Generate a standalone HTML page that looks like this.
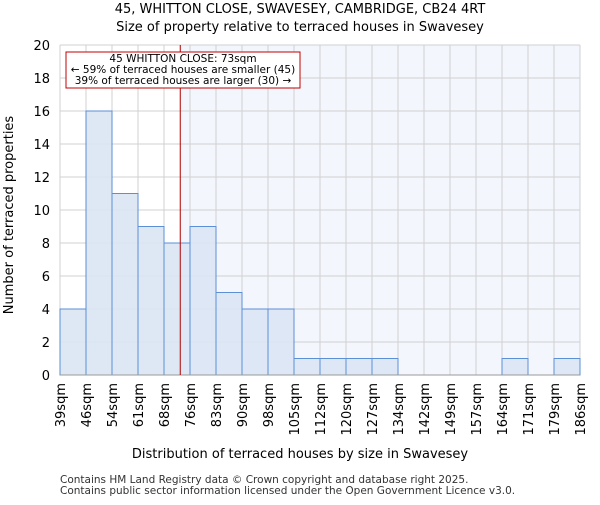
<!DOCTYPE html>
<html><head><meta charset="utf-8"><style>body{margin:0;background:#fff}text{font-family:"DejaVu Sans","Liberation Sans",sans-serif}</style></head>
<body>
<svg id="c" width="600" height="500" xmlns="http://www.w3.org/2000/svg">
<rect width="600" height="500" fill="#fff"/>
<text x="300" y="13" text-anchor="middle" font-size="13">45, WHITTON CLOSE, SWAVESEY, CAMBRIDGE, CB24 4RT</text>
<text x="300" y="31" text-anchor="middle" font-size="13">Size of property relative to terraced houses in Swavesey</text>
<g id="plot"></g>
<text x="300" y="458" text-anchor="middle" font-size="13">Distribution of terraced houses by size in Swavesey</text>
<text transform="translate(13,215) rotate(-90)" text-anchor="middle" font-size="13">Number of terraced properties</text>
<text x="60" y="483" font-size="10.5" fill="#333">Contains HM Land Registry data © Crown copyright and database right 2025.</text>
<text x="60" y="494" font-size="10.5" fill="#333">Contains public sector information licensed under the Open Government Licence v3.0.</text>
</svg>
<script>
const binLabels=["39sqm","46sqm","54sqm","61sqm","68sqm","76sqm","83sqm","90sqm","98sqm","105sqm","112sqm","120sqm","127sqm","134sqm","142sqm","149sqm","157sqm","164sqm","171sqm","179sqm","186sqm"];
const counts=[4,16,11,9,8,9,5,4,4,1,1,1,1,0,0,0,0,1,0,1];
const yTicks=[0,2,4,6,8,10,12,14,16,18,20];
const propertyBinPos=[4.625];
const NS="http://www.w3.org/2000/svg";
const L=60,R=580,T=45,B=375,yMax=20;
const n=counts.length,bw=(R-L)/n;
const X=i=>L+i*bw, Y=v=>B-(v/yMax)*(B-T);
const g=document.getElementById('plot');
function mk(t,a){const e=document.createElementNS(NS,t);for(const k in a)e.setAttribute(k,a[k]);g.appendChild(e);return e;}
const px=X(propertyBinPos[0]);
let e=mk('rect',{x:px,y:T,width:R-px,height:B-T,fill:'#f4f6fd'});

for(let i=0;i<=n;i++){e=mk('line',{x1:X(i),x2:X(i),y1:T,y2:B,stroke:'#d0d0d0'});}
yTicks.forEach(v=>{e=mk('line',{x1:L,x2:R,y1:Y(v),y2:Y(v),stroke:'#d0d0d0'});
e=mk('text',{x:L-10,y:Y(v)+5,'text-anchor':'end','font-size':13});e.textContent=v;});
counts.forEach((c,i)=>{if(c<=0)return;e=mk('rect',{x:X(i),y:Y(c),width:bw,height:B-Y(c),fill:'#dae5f4','fill-opacity':0.9,stroke:'#5b8fd6','stroke-width':1});
});
binLabels.forEach((l,i)=>{e=mk('text',{transform:`translate(${X(i)+5},383) rotate(-90)`,'text-anchor':'end','font-size':13});e.textContent=l;});
e=mk('line',{x1:L,x2:R,y1:B,y2:B,stroke:'#999'});
e=mk('line',{x1:px,x2:px,y1:T,y2:B,stroke:'#b00000','stroke-width':1});
e=mk('rect',{x:66,y:52,width:234,height:36,fill:'#fff',stroke:'#c00000','stroke-width':1});
["45 WHITTON CLOSE: 73sqm","← 59% of terraced houses are smaller (45)","39% of terraced houses are larger (30) →"].forEach((t,i)=>{e=mk('text',{x:183,y:62+i*11,'text-anchor':'middle','font-size':10.5});e.textContent=t;});
</script>
</body></html>
